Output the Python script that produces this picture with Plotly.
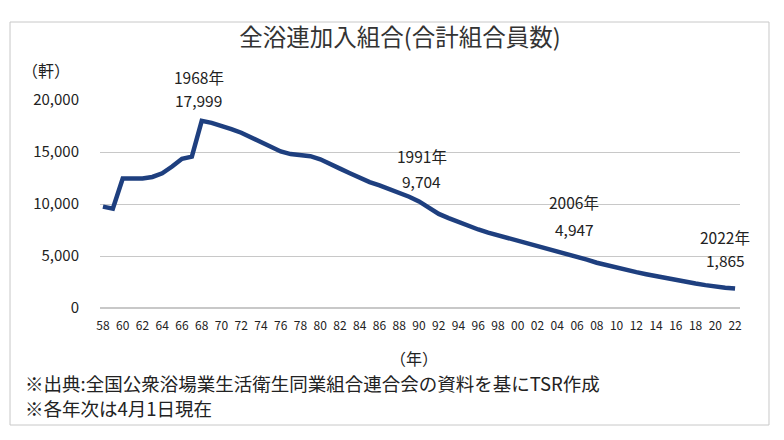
import plotly.graph_objects as go

# 全浴連加入組合 合計組合員数（各年4月1日現在）
years = list(range(1958, 2023))
members = [
    9750, 9550, 12450, 12450, 12450, 12600, 12950, 13600, 14350, 14550,  # 1958-1967
    17999, 17800, 17550, 17200, 16850, 16400, 15900, 15450, 15050, 14800,  # 1968-1977
    14700, 14600, 14300, 13900, 13400, 12950, 12500, 12100, 11800, 11450,  # 1978-1987
    11050, 10700, 10250, 9704, 9050, 8650, 8250, 7900, 7550, 7250,  # 1988-1997
    7000, 6750, 6500, 6250, 5950, 5650, 5400, 5150, 4947, 4650,  # 1998-2007
    4350, 4100, 3850, 3650, 3450, 3250, 3050, 2850, 2650, 2500,  # 2008-2017
    2350, 2200, 2050, 1950, 1865,  # 2018-2022
]
tick_years = list(range(1958, 2023, 2))
tick_labels = [str(y)[2:] for y in tick_years]
callout_years = [1968, 1991, 2006, 2022]

font_jp = "Noto Sans CJK JP"
line_color = "#1e3f7f"

fig = go.Figure()
fig.add_trace(go.Scatter(
    x=years, y=members, mode="lines",
    line=dict(color=line_color, width=4.5),
    hoverinfo="x+y", showlegend=False,
))

# callout labels (year + value): xshift, year yshift, value yshift
callout_pos = {1968: (-3, 44, 21), 1991: (-7, 51, 26), 2006: (-3, 55, 28), 2022: (-10, 52, 29)}
for yr in callout_years:
    val = members[years.index(yr)]
    sx, sy_year, sy_val = callout_pos[yr]
    fig.add_annotation(x=yr, y=val, text=f"{yr}年", showarrow=False,
                       xshift=sx, yshift=sy_year,
                       font=dict(family=font_jp, size=15.5, color="#222"))
    fig.add_annotation(x=yr, y=val, text=f"{val:,}", showarrow=False,
                       xshift=sx, yshift=sy_val,
                       font=dict(family=font_jp, size=15.5, color="#222"))

fig.add_annotation(x=-0.085, y=1.21, xref="paper", yref="paper", text="（軒）",
                   showarrow=False, xanchor="center",
                   font=dict(family=font_jp, size=16, color="#222"))
fig.add_annotation(x=0.49, y=-0.24, xref="paper", yref="paper", text="（年）",
                   showarrow=False, yanchor="middle",
                   font=dict(family=font_jp, size=16, color="#222"))
fig.add_annotation(x=-0.12, y=-0.36, xref="paper", yref="paper",
                   text="※出典:全国公衆浴場業生活衛生同業組合連合会の資料を基にTSR作成",
                   showarrow=False, xanchor="left", yanchor="middle",
                   font=dict(family=font_jp, size=18.5, color="#222"))
fig.add_annotation(x=-0.12, y=-0.48, xref="paper", yref="paper",
                   text="※各年次は4月1日現在",
                   showarrow=False, xanchor="left", yanchor="middle",
                   font=dict(family=font_jp, size=18.5, color="#222"))

# outer frame
fig.add_shape(type="rect", xref="paper", yref="paper",
              x0=-0.1406, x1=1.0453, y0=-0.5625, y1=1.375,
              line=dict(color="#c8c8c8", width=1), layer="below")

fig.update_layout(
    width=784, height=440,
    margin=dict(l=92, r=52, t=92, b=140),
    paper_bgcolor="white", plot_bgcolor="white",
    title=dict(text="全浴連加入組合(合計組合員数)", x=0.5, xanchor="center",
               y=0.932, yanchor="middle",
               font=dict(family=font_jp, size=23.5, color="#333")),
    font=dict(family=font_jp, color="#222"),
)
fig.update_xaxes(
    range=[1957.7, 2022.5], tickmode="array",
    tickvals=tick_years, ticktext=tick_labels, tickangle=0,
    showgrid=False, zeroline=False, showline=False, ticks="",
    ticklabelstandoff=9,
    tickfont=dict(size=12, family=font_jp, color="#222"),
)
fig.update_yaxes(
    range=[0, 20000], tickvals=[0, 5000, 10000, 15000, 20000],
    tickformat=",", showgrid=True, gridcolor="#c8c8c8", gridwidth=1,
    zeroline=True, zerolinecolor="#c8c8c8", showline=False, ticks="",
    ticklabelstandoff=20,
    tickfont=dict(size=15, family=font_jp, color="#222"),
)

fig.write_html("out.html")
